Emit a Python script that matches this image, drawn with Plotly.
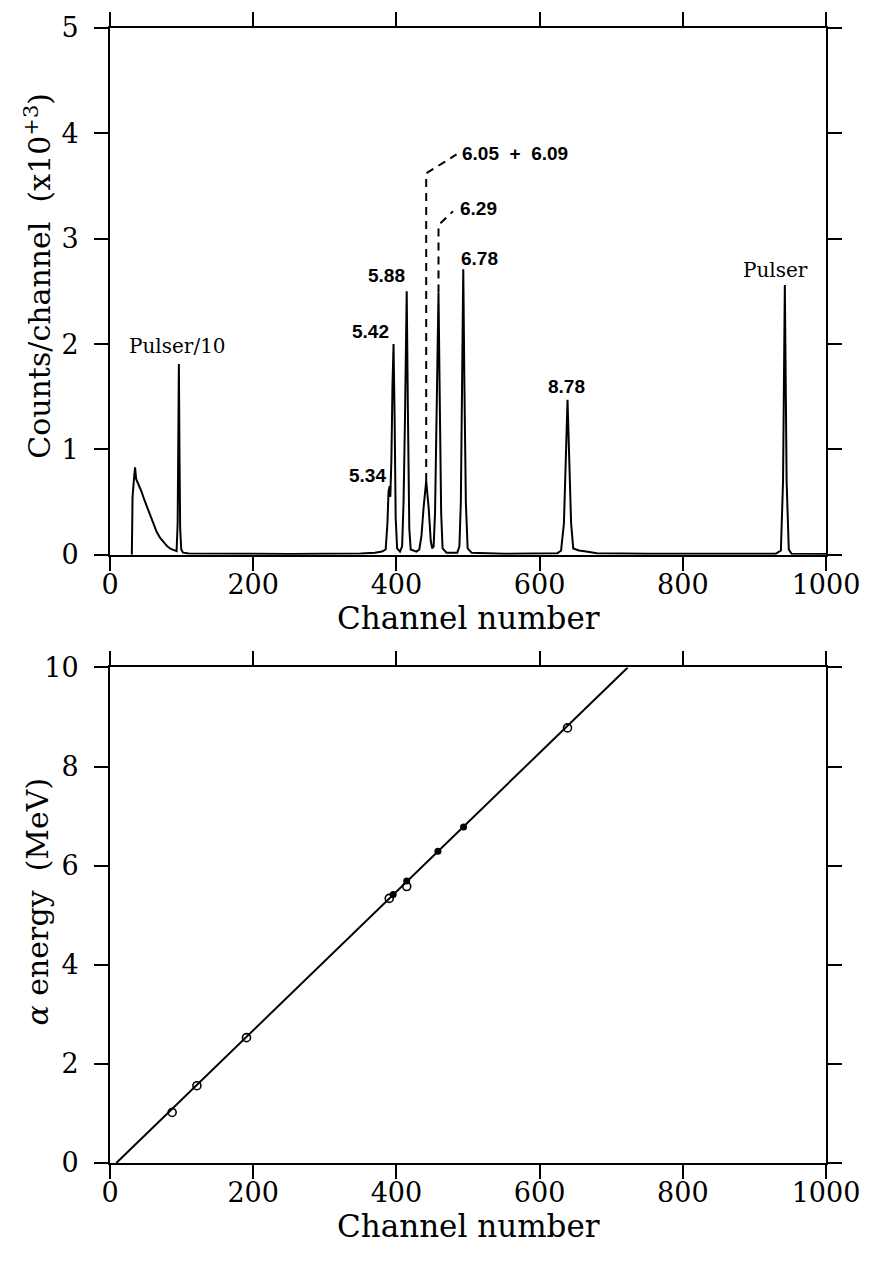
import plotly.graph_objects as go

# ---- alpha spectrum (counts per channel, in units of 10^3) ----
spec_channel = [30.5, 31.5, 33.5, 35.0, 36.5, 40, 44, 48, 52, 56, 60, 65, 70, 75, 80, 85, 90, 93,
                94.5, 95.5, 96.2, 97, 98, 99.5, 102, 110, 150, 200, 250, 300, 350, 370, 380,
                385, 387.5, 389, 390.5, 391.5, 393, 394.5, 396, 397.5, 399, 401, 405,
                408, 410, 412, 414.4, 416, 418, 420, 428, 432, 435, 438, 441.6, 445, 448,
                450, 452, 454, 456.5, 458.8, 460.5, 462.5, 464.5, 470, 485, 488, 490, 492,
                493.4, 495, 497, 499.5, 505, 550, 600, 625, 630, 634, 637, 639, 641, 644,
                647, 655, 665, 680, 750, 850, 930, 937, 940, 942.5, 945, 948, 952, 1000]
spec_counts = [0.0, 0.55, 0.72, 0.83, 0.72, 0.67, 0.60, 0.52, 0.45, 0.37, 0.30, 0.22, 0.16, 0.12,
               0.08, 0.055, 0.04, 0.035, 0.3, 1.2, 1.81, 1.0, 0.25, 0.05, 0.02, 0.012, 0.01,
               0.008, 0.008, 0.01, 0.012, 0.02, 0.03, 0.05, 0.3, 0.6, 0.65, 0.55, 0.9, 1.6,
               2.00, 1.3, 0.35, 0.06, 0.03, 0.08, 0.5, 1.3, 2.50, 1.4, 0.25, 0.05, 0.03, 0.05,
               0.18, 0.45, 0.70, 0.45, 0.13, 0.06, 0.08, 0.4, 1.42, 2.49, 1.5, 0.4, 0.06, 0.02,
               0.02, 0.08, 0.5, 1.6, 2.71, 1.6, 0.5, 0.06, 0.02, 0.01, 0.01, 0.015, 0.04, 0.3,
               1.0, 1.47, 1.0, 0.3, 0.06, 0.04, 0.03, 0.015, 0.01, 0.008, 0.01, 0.04, 0.7,
               2.56, 0.7, 0.05, 0.01, 0.008]

# dashed extensions of the 6.05+6.09 and 6.29 peaks with their leaders
lead_a_channel = [441.6, 441.6, 484.0]
lead_a_counts = [0.70, 3.62, 3.80]
lead_b_channel = [458.8, 458.8, 479.0]
lead_b_counts = [2.49, 3.13, 3.26]

# peak labels
num_labels = ["5.34", "5.42", "5.88", "6.05\u00a0\u00a0+\u00a0\u00a06.09", "6.29", "6.78", "8.78"]
num_label_channel = [359.3, 364.1, 385.6, 566.2, 515.0, 516.0, 636.9]
num_label_counts = [0.755, 2.118, 2.651, 3.81, 3.29, 2.811, 1.60]
pulser_labels = ["Pulser/10", "Pulser"]
pulser_label_channel = [94.2, 929.0]
pulser_label_counts = [1.98, 2.70]

# ---- energy calibration ----
cal_open_channel = [86.8, 121.4, 190.6, 390.0, 414.4, 639.0]
cal_open_energy = [1.02, 1.56, 2.53, 5.34, 5.58, 8.78]
cal_fill_channel = [395.5, 414.4, 458.0, 493.8]
cal_fill_energy = [5.42, 5.69, 6.29, 6.78]
fit_channel = [8.8, 723.1]
fit_energy = [0.0, 10.0]

x_ticks = [0, 200, 400, 600, 800, 1000]

SERIF = "DejaVu Serif"
SANS = "Liberation Sans"
BLACK = "black"

fig = go.Figure()

fig.add_trace(go.Scatter(x=spec_channel, y=spec_counts, mode="lines",
                         line=dict(color=BLACK, width=2), xaxis="x", yaxis="y",
                         showlegend=False, hoverinfo="skip"))
for lx, ly in ((lead_a_channel, lead_a_counts), (lead_b_channel, lead_b_counts)):
    fig.add_trace(go.Scatter(x=lx, y=ly, mode="lines",
                             line=dict(color=BLACK, width=2, dash="8px,6px"),
                             xaxis="x", yaxis="y", showlegend=False, hoverinfo="skip"))

fig.add_trace(go.Scatter(x=fit_channel, y=fit_energy, mode="lines",
                         line=dict(color=BLACK, width=2), xaxis="x2", yaxis="y2",
                         showlegend=False, hoverinfo="skip"))
fig.add_trace(go.Scatter(x=cal_open_channel, y=cal_open_energy, mode="markers",
                         marker=dict(symbol="circle-open", size=8, color=BLACK,
                                     line=dict(width=1.6, color=BLACK)),
                         xaxis="x2", yaxis="y2", showlegend=False))
fig.add_trace(go.Scatter(x=cal_fill_channel, y=cal_fill_energy, mode="markers",
                         marker=dict(symbol="circle", size=7, color=BLACK),
                         xaxis="x2", yaxis="y2", showlegend=False))

axis_common = dict(showline=True, linewidth=2, linecolor=BLACK, mirror="ticks",
                   ticks="outside", ticklen=14, tickwidth=2, tickcolor=BLACK,
                   showgrid=False, zeroline=False,
                   tickfont=dict(family=SERIF, size=27, color=BLACK))

fig.update_layout(
    width=872, height=1272,
    margin=dict(l=110, r=40, t=20, b=109),
    paper_bgcolor="white", plot_bgcolor="white",
    xaxis=dict(axis_common, domain=[0, 1], range=[0, 1000], tickvals=x_ticks,
               anchor="y", ticklabelstandoff=-9),
    yaxis=dict(axis_common, domain=[0.5359, 1.0], range=[0, 5], dtick=1, anchor="x",
               ticklabelstandoff=10),
    xaxis2=dict(axis_common, domain=[0, 1], range=[0, 1000], tickvals=x_ticks,
                anchor="y2", ticklabelstandoff=-9),
    yaxis2=dict(axis_common, domain=[0, 0.4366], range=[0, 10], dtick=2, anchor="x2",
                ticklabelstandoff=10),
)

ann = []
for t, cx, cy in zip(num_labels, num_label_channel, num_label_counts):
    ann.append(dict(text=t, x=cx, y=cy, xref="x", yref="y", showarrow=False,
                    font=dict(family=SANS, size=19, color=BLACK, weight="bold")))
for t, cx, cy in zip(pulser_labels, pulser_label_channel, pulser_label_counts):
    ann.append(dict(text=t, x=cx, y=cy, xref="x", yref="y", showarrow=False,
                    font=dict(family=SERIF, size=20, color=BLACK)))

title_font = dict(family=SERIF, size=31, color=BLACK)
ann += [
    dict(text="Channel number", x=0.5, y=-0.121, xref="x domain", yref="y domain",
         showarrow=False, xanchor="center", yanchor="middle", font=title_font),
    dict(text="Counts/channel\u00a0\u00a0(x10<sup>+3</sup>)", x=-0.101, y=0.529,
         xref="x domain", yref="y domain", showarrow=False, textangle=-90,
         xanchor="center", yanchor="middle", font=dict(title_font, size=30)),
    dict(text="Channel number", x=0.5, y=-0.127, xref="x2 domain", yref="y2 domain",
         showarrow=False, xanchor="center", yanchor="middle", font=title_font),
    dict(text="<i>α</i> energy\u00a0\u00a0(MeV)", x=-0.101, y=0.527,
         xref="x2 domain", yref="y2 domain", showarrow=False, textangle=-90,
         xanchor="center", yanchor="middle", font=dict(title_font, size=30)),
]
fig.update_layout(annotations=ann)

fig.write_html("out.html")
